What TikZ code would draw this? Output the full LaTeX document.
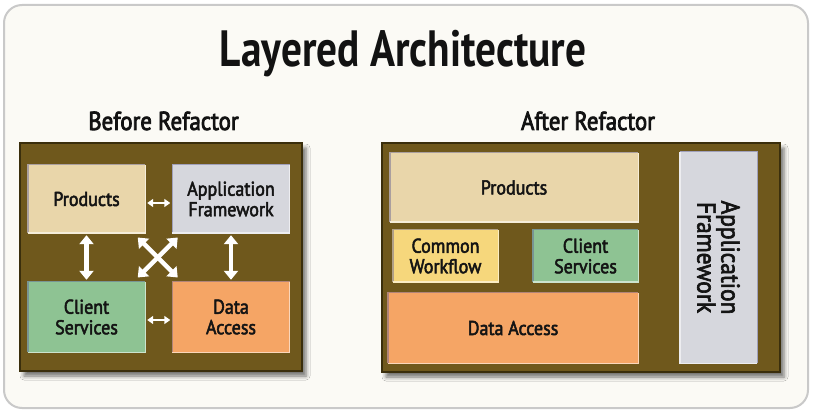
\documentclass[tikz,border=0pt]{standalone}
\usepackage{fontspec}
\newfontfamily\titlefont{PT Sans}[FakeStretch=0.81]
\newfontfamily\subfont{PT Sans}[FakeStretch=0.88, FakeBold=3]
\newfontfamily\labfont{PT Sans}[FakeStretch=0.9, FakeBold=2.5]
\usetikzlibrary{arrows.meta,shadows.blur,calc}

\definecolor{frameline}{HTML}{C9C9C9}
\definecolor{paper}{HTML}{FBFAF5}
\definecolor{olivepanel}{HTML}{6F581C}
\definecolor{oliveedge}{HTML}{3A2E0C}
\definecolor{cProd}{HTML}{E9D6AA}
\definecolor{cApp}{HTML}{D6D7DD}
\definecolor{cCli}{HTML}{8EC393}
\definecolor{cData}{HTML}{F5A565}
\definecolor{cFlow}{HTML}{F6D77C}
\definecolor{slateedge}{HTML}{5E5C92}

\tikzset{
  panel/.style={fill=olivepanel, draw=oliveedge, line width=1.5pt, inner sep=0pt,
    blur shadow={shadow xshift=4pt, shadow yshift=-5pt, shadow blur radius=4pt, shadow opacity=55}},
  layer/.style={inner sep=0pt, align=center, text=black!92,
    font=\labfont\fontsize{20}{20.5}\selectfont},
  dbl/.style={draw=white, line width=4.5pt,
    {Triangle[width=14pt,length=9pt]}-{Triangle[width=14pt,length=9pt]},
    shorten >=2pt, shorten <=2pt},
  dblsmall/.style={draw=white, line width=2.5pt,
    {Triangle[width=8pt,length=6pt]}-{Triangle[width=8pt,length=6pt]},
    shorten >=2pt, shorten <=2pt},
}

% bevelled edges of a layer box: dark top/left, light bottom/right
\newcommand\bevelbox[2]{%
  \draw[line width=1.4pt, #2!55!slateedge] (#1.south west) -- (#1.north west) -- (#1.north east);
  \draw[line width=1.4pt, #2!45!white] (#1.north east) -- (#1.south east) -- (#1.south west);
}

\begin{document}
\begin{tikzpicture}[x=1pt, y=-1pt]
  \useasboundingbox (0,0) rectangle (813,411);

  % outer card
  \draw[frameline, fill=paper, line width=2pt, rounded corners=18pt] (4,5) rectangle (808,408);

  % headings
  \node[anchor=base, inner sep=0pt, text=black!93, font=\titlefont\bfseries\fontsize{51}{51}\selectfont]
    (title) at (403,67) {Layered Architecture};
  \node[anchor=base, inner sep=0pt, text=black!93, font=\subfont\fontsize{26}{26}\selectfont]
    (before) at (163.5,130) {Before Refactor};
  \node[anchor=base, inner sep=0pt, text=black!93, font=\subfont\fontsize{26}{26}\selectfont]
    (after) at (588,130) {After Refactor};

  % ---------- before refactor ----------
  \node[panel, minimum width=282pt, minimum height=228pt] (leftP) at (161,257) {};

  \node[layer, fill=cProd, minimum width=117pt, minimum height=68pt] (pL) at (86.5,199) {Products};
  \node[layer, fill=cApp,  minimum width=117pt, minimum height=68pt] (aL) at (231,199) {Application\\Framework};
  \node[layer, fill=cCli,  minimum width=117pt, minimum height=70pt] (cL) at (86.5,317) {Client\\Services};
  \node[layer, fill=cData, minimum width=117pt, minimum height=70pt] (dL) at (231,317) {Data\\Access};
  \bevelbox{pL}{cProd}
  \bevelbox{aL}{cApp}
  \bevelbox{cL}{cCli}
  \bevelbox{dL}{cData}

  \draw[dblsmall] ([yshift=-4pt]pL.east) -- ([yshift=-4pt]aL.west);
  \draw[dblsmall] ([yshift=-3pt]cL.east) -- ([yshift=-3pt]dL.west);
  \draw[dbl] (pL.south) -- (cL.north);
  \draw[dbl] (aL.south) -- (dL.north);

  \coordinate (xc) at ($(pL.south east)!0.5!(dL.north west)$);
  \coordinate (xnw) at ($(xc)+(-21,-20)$);
  \coordinate (xse) at ($(xc)+(19,20)$);
  \coordinate (xne) at ($(xc)+(19,-20)$);
  \coordinate (xsw) at ($(xc)+(-21,20)$);
  \draw[dbl, shorten >=0pt, shorten <=0pt] (xnw) -- (xse);
  \draw[dbl, shorten >=0pt, shorten <=0pt] (xne) -- (xsw);

  % ---------- after refactor ----------
  \node[panel, minimum width=398pt, minimum height=229pt] (rightP) at (581,257.5) {};

  \node[layer, fill=cProd, minimum width=248pt, minimum height=69pt] (pR) at (514,187.5) {Products};
  \node[layer, fill=cFlow, minimum width=105pt, minimum height=52pt] (wR) at (445.5,256) {Common\\Workflow};
  \node[layer, fill=cCli,  minimum width=105pt, minimum height=52pt] (sR) at (585.5,256) {Client\\Services};
  \node[layer, fill=cData, minimum width=250pt, minimum height=70pt] (daR) at (513,328) {Data Access};
  \node[layer, fill=cApp,  minimum width=211pt, minimum height=77pt, rotate=-90,
    font=\labfont\fontsize{26}{24}\selectfont] (aR) at (718.5,257.5) {Application\\Framework};
  \bevelbox{pR}{cProd}
  \bevelbox{wR}{cFlow}
  \bevelbox{sR}{cCli}
  \bevelbox{daR}{cData}
  \bevelbox{aR}{cApp}
\end{tikzpicture}
\end{document}
